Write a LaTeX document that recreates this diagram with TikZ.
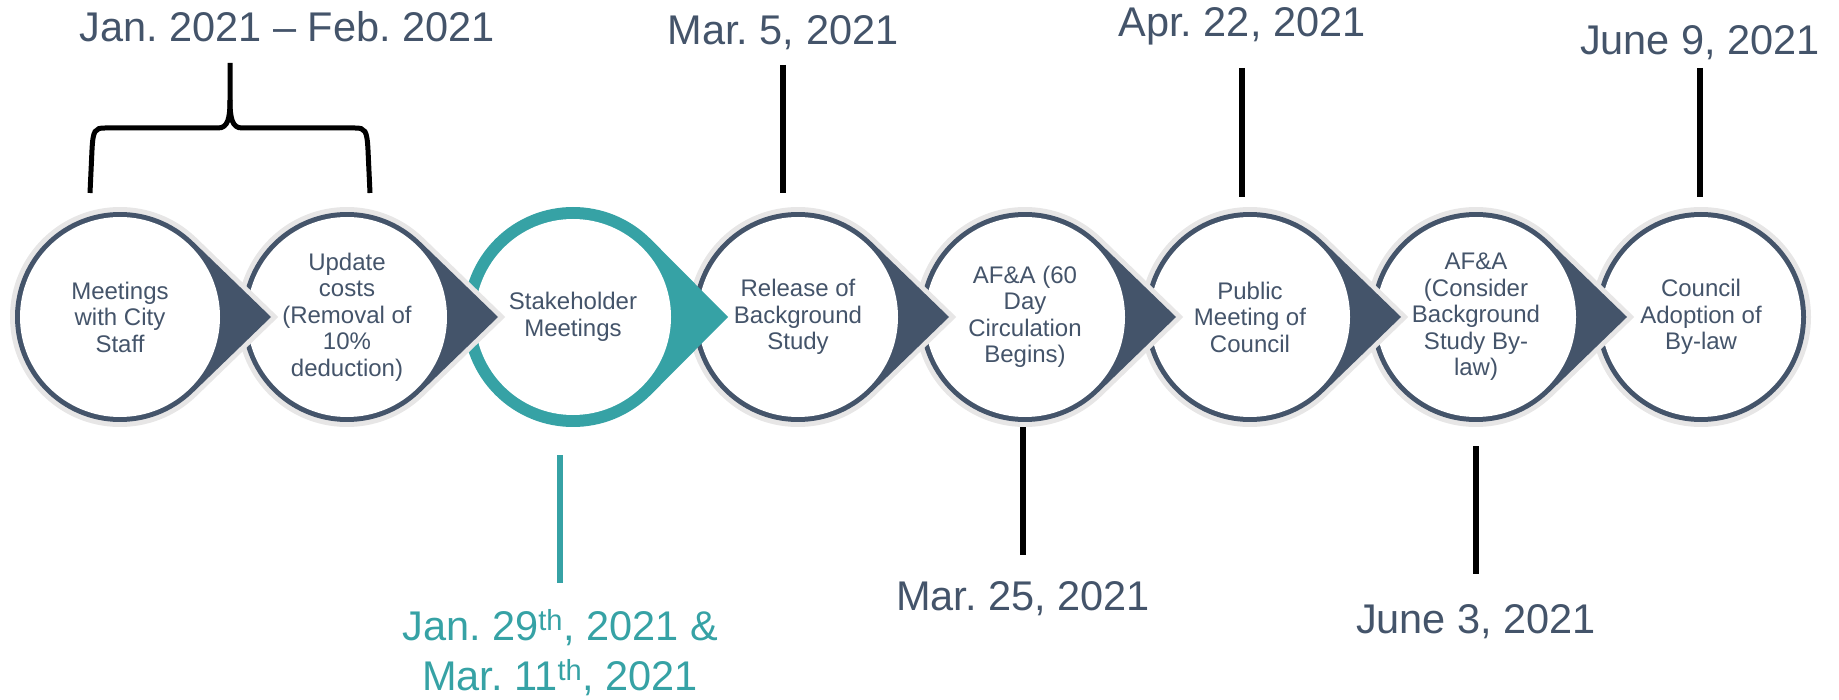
\documentclass[tikz,border=0pt]{standalone}
\usepackage{fontspec}
\setmainfont{Liberation Sans}
\frenchspacing
\definecolor{slate}{HTML}{44546A}
\definecolor{tealmark}{HTML}{36A2A5}
\definecolor{halo}{HTML}{E7E6E6}
\tikzset{
  stage/.style={circle, minimum size=220pt, inner sep=0pt, align=center,
    text=slate, font=\fontsize{24}{26.5}\selectfont},
  datelabel/.style={anchor=base, inner sep=0pt, align=center, text=slate,
    font=\fontsize{41.5}{50}\selectfont},
  tick/.style={line width=5.5pt},
}
\begin{document}
\begin{tikzpicture}[x=1pt, y=-1pt]
    \useasboundingbox (0,0) rectangle (1839,700);
    % last circle has no tip
    \fill[slate, preaction={draw=halo, line width=10pt}] (1701,317) circle[radius=105];
    \fill[white] (1701,317) circle[radius=100];
    % drops, right to left so each tip lies over the next circle
    \foreach \cx in {1476,1250,1025,798} {
        \fill[slate, preaction={draw=halo, line width=10pt}]
          (\cx+151,317) -- ([shift={(\cx,317)}]46:105)
          arc[start angle=46, end angle=314, radius=105] -- cycle;
        \fill[white] (\cx,317) circle[radius=100];
      }
    \fill[tealmark] (573+155,317) -- ([shift={(573,317)}]45:110)
      arc[start angle=45, end angle=315, radius=110] -- cycle;
    \fill[white] (573,317) circle[radius=98];
    \foreach \cx in {347,120} {
        \fill[slate, preaction={draw=halo, line width=10pt}]
          (\cx+151,317) -- ([shift={(\cx,317)}]46:105)
          arc[start angle=46, end angle=314, radius=105] -- cycle;
        \fill[white] (\cx,317) circle[radius=100];
      }

    % stages
    \node[stage] (s1) at (120,317) {Meetings\\with City\\Staff};
    \node[stage] (s2) at (347,317) {Update\\costs\\(Removal of\\10\%\\deduction)};
    \node[stage] (s3) at (573,317) {Stakeholder\\Meetings};
    \node[stage] (s4) at (798,317) {Release of\\Background\\Study};
    \node[stage] (s5) at (1025,317) {AF\&A (60\\Day\\Circulation\\Begins)};
    \node[stage] (s6) at (1250,317) {Public\\Meeting of\\Council};
    \node[stage] (s7) at (1476,317) {AF\&A\\(Consider\\Background\\Study By-\\law)};
    \node[stage] (s8) at (1701,317) {Council\\Adoption of\\By-law};

    % dates above
    \node[datelabel] (d12) at (287,42) {Jan. 2021 – Feb. 2021};
    \node[datelabel] (d4) at (783,45) {Mar. 5, 2021};
    \node[datelabel] (d6) at (1242,37) {Apr. 22, 2021};
    \node[datelabel] (d8) at (1700,55) {June 9, 2021};
    \draw[tick, shorten <=20pt, shorten >=14pt] (d4.base) -- (d4.base |- s4.north);
    \draw[tick, shorten <=31pt, shorten >=10pt] (d6.base) -- (d6.base |- s6.north);
    \draw[tick, shorten <=13pt, shorten >=10pt] (d8.base) -- (d8.base |- s8.north);

    % brace over the first two
    \draw[line width=5pt] (90,193) -- (92,150) .. controls (93,130) and (95,128) .. (105,128)
      -- (218,128) .. controls (228,128) and (230,118) .. (230,100) -- (230,63);
    \draw[line width=5pt] (230,100) .. controls (230,118) and (232,128) .. (242,128)
      -- (355,128) .. controls (365,128) and (367,130) .. (368,150) -- (370,193);

    % dates below
    \node[datelabel] (d5) at (1023,610) {Mar. 25, 2021};
    \node[datelabel] (d7) at (1476,633) {June 3, 2021};
    \node[datelabel, text=tealmark] (d3) at (560,690)
      {Jan. 29\textsuperscript{th}, 2021 \&\\Mar. 11\textsuperscript{th}, 2021};
    \draw[tick, shorten >=55pt] (d5.base |- s5.south) -- (d5.base);
    \draw[tick, shorten <=19pt, shorten >=59pt] (d7.base |- s7.south) -- (d7.base);
    \draw[tick, tealmark, shorten <=28pt, shorten >=107pt] (d3.base |- s3.south) -- (d3.base);
\end{tikzpicture}
\end{document}
